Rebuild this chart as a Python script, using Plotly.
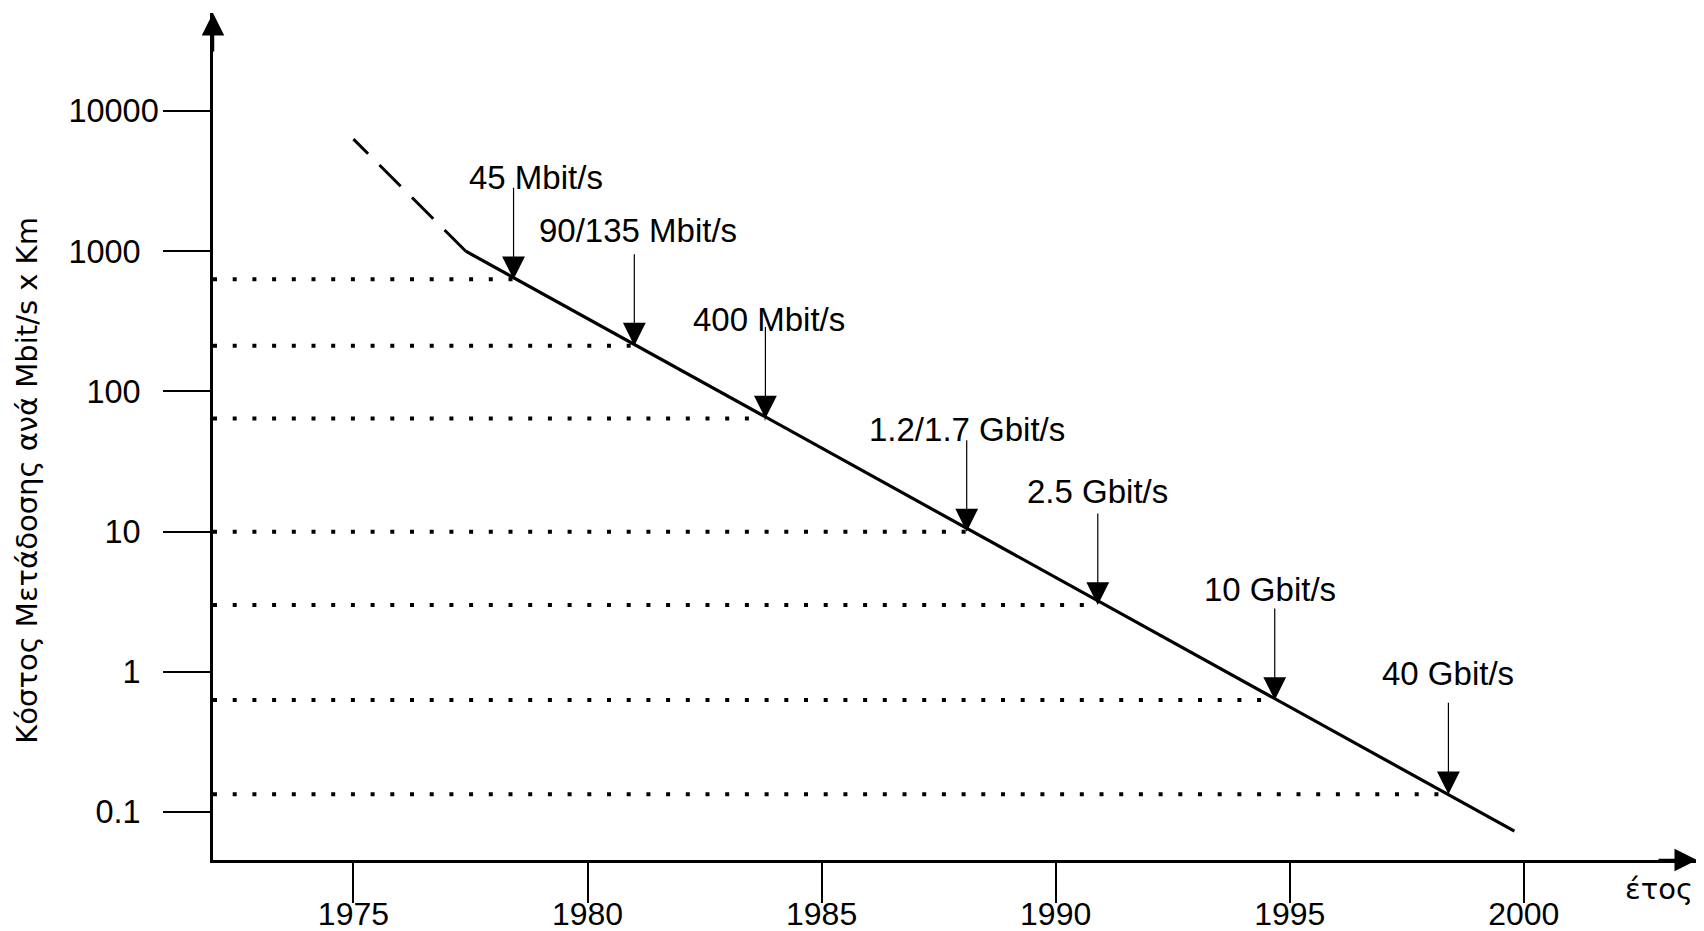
import math
import plotly.graph_objects as go

# ---- data ----
years_solid = [1977.4, 1999.8]
cost_solid = [1000, 0.073]
years_dashed = [1977.4, 1975.0]
cost_dashed = [1000, 6300]

rate_labels = ["45 Mbit/s", "90/135 Mbit/s", "400 Mbit/s", "1.2/1.7 Gbit/s",
               "2.5 Gbit/s", "10 Gbit/s", "40 Gbit/s"]
rate_years = [1978.42, 1981.0, 1983.8, 1988.1, 1990.9, 1994.68, 1998.39]
rate_costs = [630, 212, 64, 10, 3, 0.63, 0.134]

x_ticks = [1975, 1980, 1985, 1990, 1995, 2000]
y_ticks = [0.1, 1, 10, 100, 1000, 10000]
y_tick_labels = ["0.1", "1", "10", "100", "1000", "10000"]

y_title = "Κόστος Μετάδοσης ανά Mbit/s x Km"
x_title = "έτος"

# ---- style ----
X_RANGE = [1972.0, 2003.7]
Y_RANGE = [-1.342, 4.699]
FONT = "Liberation Sans, Arial, sans-serif"
GFONT = "DejaVu Sans, sans-serif"
label_dx = [22, 4, 4, 0, 0, -5, 0]
label_dy = [102, 115, 99, 102, 113, 110, 121]
NBSP = "\u00a0"
y_tick_text = [t if len(t) >= 5 else t + NBSP * 2 for t in y_tick_labels]

fig = go.Figure()

# dotted guide lines
for yr, c in zip(rate_years, rate_costs):
    fig.add_trace(go.Scatter(
        x=[X_RANGE[0], yr], y=[c, c], mode="lines",
        line=dict(color="black", width=4, dash="4px,15.7px"),
        hoverinfo="skip", showlegend=False))

# dashed early segment
fig.add_trace(go.Scatter(
    x=years_dashed, y=cost_dashed, mode="lines",
    line=dict(color="black", width=3, dash="30px,16px"),
    showlegend=False))

# solid trend line
fig.add_trace(go.Scatter(
    x=years_solid, y=cost_solid, mode="lines",
    line=dict(color="black", width=3.2),
    showlegend=False))

annotations = []
for lab, yr, c, dx, dy in zip(rate_labels, rate_years, rate_costs, label_dx, label_dy):
    ly = math.log10(c)
    annotations.append(dict(
        x=yr, y=ly, xref="x", yref="y", text="", showarrow=True,
        ax=0, ay=-93, arrowhead=2, arrowsize=3.8, arrowwidth=1.2,
        arrowcolor="black", standoff=0))
    annotations.append(dict(
        x=yr, y=ly, xref="x", yref="y", text=lab, showarrow=False,
        xshift=dx, yshift=dy, font=dict(family=FONT, size=33, color="black")))

# axis arrowheads
annotations.append(dict(x=X_RANGE[0], y=Y_RANGE[1], xref="x", yref="y", text="",
                        showarrow=True, ax=0, ay=40, arrowhead=2, arrowsize=1.8,
                        arrowwidth=2.5, arrowcolor="black", standoff=0))
annotations.append(dict(x=X_RANGE[1], y=Y_RANGE[0], xref="x", yref="y", text="",
                        showarrow=True, ax=-40, ay=0, arrowhead=2, arrowsize=1.8,
                        arrowwidth=2.5, arrowcolor="black", standoff=0))

# axis titles
annotations.append(dict(x=-0.1255, y=0.4487, xref="paper", yref="paper", text=y_title,
                        showarrow=False, textangle=-90, xanchor="center", yanchor="middle",
                        font=dict(family=GFONT, size=29, color="black")))
annotations.append(dict(x=0.9744, y=-0.034, xref="paper", yref="paper", text=x_title,
                        showarrow=False, xanchor="center", yanchor="middle",
                        font=dict(family=GFONT, size=29, color="black")))

fig.update_layout(
    width=1690, height=923, autosize=False,
    margin=dict(l=205, r=1, t=5, b=71, pad=0, autoexpand=False),
    plot_bgcolor="white", paper_bgcolor="white",
    showlegend=False,
    annotations=annotations,
    xaxis=dict(range=X_RANGE, tickvals=x_ticks, ticktext=[str(v) for v in x_ticks],
               automargin=False,
               showgrid=False, zeroline=False, showline=True, linecolor="black",
               linewidth=2.5, ticks="outside", ticklen=40, tickwidth=2,
               ticklabelstandoff=-16,
               tickcolor="black", tickfont=dict(family=FONT, size=32, color="black")),
    yaxis=dict(type="log", range=Y_RANGE, tickvals=y_ticks, ticktext=y_tick_text,
               automargin=False,
               showgrid=False, zeroline=False, showline=True, linecolor="black",
               linewidth=2.5, ticks="outside", ticklen=47, tickwidth=2,
               ticklabelstandoff=-2,
               tickcolor="black", tickfont=dict(family=FONT, size=32.5, color="black")),
)

fig.write_html("out.html")
